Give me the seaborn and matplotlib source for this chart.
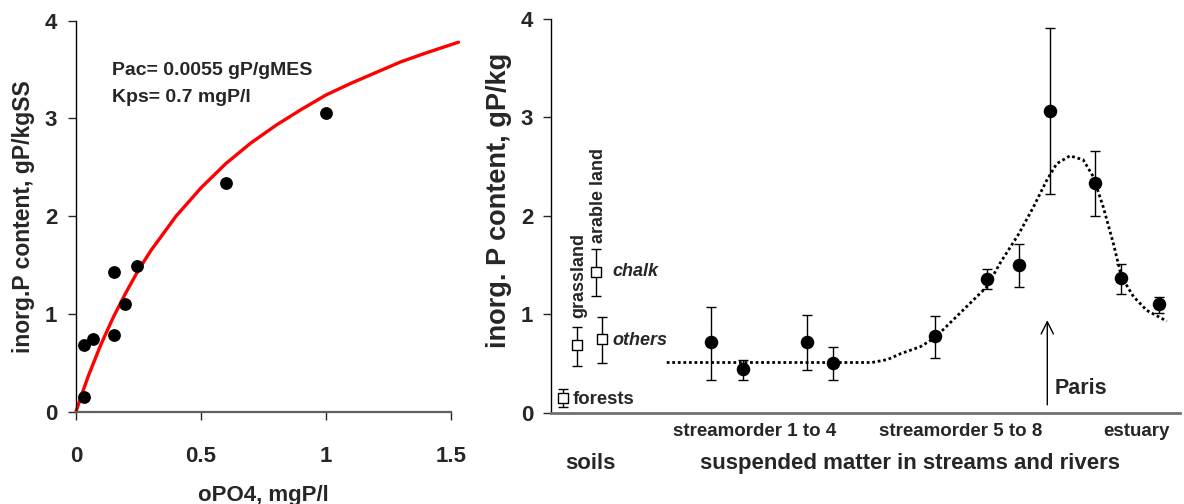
import matplotlib
matplotlib.use("Agg")
import matplotlib.pyplot as plt
import pandas as pd
import seaborn as sns

# ---------------- Left panel data ----------------
opo4 = [0.033, 0.033, 0.067, 0.15, 0.15, 0.195, 0.245, 0.60, 1.00]
p_content = [0.15, 0.68, 0.74, 0.78, 1.43, 1.10, 1.49, 2.34, 3.06]
fit_x = [0, 0.025, 0.05, 0.1, 0.15, 0.2, 0.25, 0.3, 0.4, 0.5, 0.6, 0.7,
         0.8, 0.9, 1.0, 1.1, 1.2, 1.3, 1.4, 1.53]
fit_y = [0, 0.19, 0.37, 0.69, 0.97, 1.22, 1.45, 1.65, 2.00, 2.29, 2.54, 2.75,
         2.93, 3.09, 3.24, 3.36, 3.47, 3.58, 3.67, 3.78]
left_xticks = [0, 0.5, 1, 1.5]
left_xticklabels = ["0", "0.5", "1", "1.5"]
yticks = [0, 1, 2, 3, 4]
pac_label = "Pac= 0.0055 gP/gMES"
kps_label = "Kps= 0.7 mgP/l"

# ---------------- Right panel data ----------------
soil_names = ["forests", "grassland", "arable chalk", "arable others"]
soil_pos = [1.9, 4.1, 7.1, 8.1]
soil_val = [0.146, 0.688, 1.433, 0.746]
soil_lo = [0.055, 0.478, 1.189, 0.502]
soil_hi = [0.238, 0.874, 1.664, 0.976]

river_pos = [25.4, 30.6, 40.7, 44.9, 61.0, 69.3, 74.4, 79.4, 86.5, 90.6, 96.7]
river_val = [0.715, 0.441, 0.715, 0.508, 0.78, 1.362, 1.50, 3.069, 2.337, 1.372, 1.10]
river_lo = [0.332, 0.332, 0.434, 0.332, 0.559, 1.254, 1.274, 2.222, 2.002, 1.206, 1.016]
river_hi = [1.071, 0.536, 0.993, 0.671, 0.983, 1.46, 1.711, 3.906, 2.663, 1.514, 1.173]

trend_pos = [18.4, 51.0, 53.5, 55.6, 58.7, 61.0, 65.0, 69.3, 71.4, 74.4, 76.7, 78.8,
             80.4, 82.5, 84.6, 86.2, 87.8, 89.4, 90.7, 92.6, 94.7, 97.9]
trend_val = [0.51, 0.51, 0.54, 0.60, 0.67, 0.76, 1.01, 1.28, 1.52, 1.82, 2.09, 2.36,
             2.53, 2.61, 2.57, 2.40, 2.09, 1.72, 1.38, 1.18, 1.04, 0.93]
paris_pos = 78.9

sns.set_style("ticks")
plt.rcParams["font.family"] = ["Liberation Sans", "DejaVu Sans"]
plt.rcParams["font.weight"] = "bold"
plt.rcParams["axes.labelweight"] = "bold"

fig = plt.figure(figsize=(11.84, 5.04), dpi=100)
W, H = 1184, 504

# ---------- left axes ----------
axL = fig.add_axes([76 / W, 1 - 411.7 / H, (451 - 76) / W, (411.7 - 20.7) / H])
df_fit = pd.DataFrame({"x": fit_x, "y": fit_y})
sns.lineplot(data=df_fit, x="x", y="y", ax=axL, color="#ff0000", lw=2.4)
for ln in axL.lines:
    ln.set_clip_on(False)
df_pts = pd.DataFrame({"x": opo4, "y": p_content})
sns.scatterplot(data=df_pts, x="x", y="y", ax=axL, color="black", s=85,
                edgecolor="black", linewidth=0, zorder=3)
axL.set_xlim(0, 1.5)
axL.set_ylim(0, 4)
axL.set_xticks(left_xticks)
axL.set_xticklabels(left_xticklabels)
axL.set_yticks(yticks)
axL.tick_params(axis="both", labelsize=16, length=5.5, width=1, direction="out")
axL.tick_params(axis="x", pad=19)
axL.tick_params(axis="y", pad=8)
for lab in axL.get_xticklabels() + axL.get_yticklabels():
    lab.set_fontweight("bold")
sns.despine(ax=axL)
axL.spines["left"].set_linewidth(1)
axL.spines["left"].set_color("black")
axL.spines["bottom"].set_linewidth(1.6)
axL.spines["bottom"].set_color("#606060")
axL.set_xlabel("oPO4, mgP/l", fontsize=16, fontweight="bold")
axL.set_ylabel("inorg.P content, gP/kgSS", fontsize=16.5, fontweight="bold")
axL.xaxis.set_label_coords(0.5, -0.187)
axL.yaxis.set_label_coords(-0.109, 0.50)
axL.text(0.143, 3.49, pac_label, fontsize=14, fontweight="bold", va="center", ha="left")
axL.text(0.143, 3.21, kps_label, fontsize=14, fontweight="bold", va="center", ha="left")

# ---------- right axes ----------
axR = fig.add_axes([551 / W, 1 - 412.7 / H, (1180 - 551) / W, (412.7 - 19) / H])
df_tr = pd.DataFrame({"x": trend_pos, "y": trend_val})
sns.lineplot(data=df_tr, x="x", y="y", ax=axR, color="black", lw=2.0,
             linestyle=(0, (1, 1)), zorder=2)
# error bars
axR.errorbar(river_pos, river_val,
             yerr=[[v - l for v, l in zip(river_val, river_lo)],
                   [h - v for v, h in zip(river_val, river_hi)]],
             fmt="none", ecolor="black", elinewidth=1, capsize=3.8, capthick=1, zorder=3)
axR.errorbar(soil_pos, soil_val,
             yerr=[[v - l for v, l in zip(soil_val, soil_lo)],
                   [h - v for v, h in zip(soil_val, soil_hi)]],
             fmt="none", ecolor="black", elinewidth=1, capsize=3.8, capthick=1, zorder=3)
df_riv = pd.DataFrame({"x": river_pos, "y": river_val})
sns.scatterplot(data=df_riv, x="x", y="y", ax=axR, color="black", s=95,
                linewidth=0, zorder=4)
df_soil = pd.DataFrame({"x": soil_pos, "y": soil_val})
sns.scatterplot(data=df_soil, x="x", y="y", ax=axR, marker="s", s=50,
                facecolor="white", edgecolor="black", linewidth=1, zorder=4)

axR.set_xlim(0, 100)
axR.set_ylim(0, 4)
axR.set_yticks(yticks)
axR.set_xticks([])
axR.set_xlabel("")
axR.tick_params(axis="y", labelsize=16, length=5.8, width=1, direction="out", pad=7)
for lab in axR.get_yticklabels():
    lab.set_fontweight("bold")
sns.despine(ax=axR)
axR.spines["left"].set_linewidth(1)
axR.spines["left"].set_color("black")
axR.spines["bottom"].set_linewidth(2)
axR.spines["bottom"].set_color("#707070")
axR.set_ylabel("inorg. P content, gP/kg", fontsize=19.5, fontweight="bold")
axR.yaxis.set_label_coords(-0.062, 0.540)

# soil labels
axR.text(soil_pos[0] + 1.6, soil_val[0] - 0.015, "forests", fontsize=13.3,
         fontweight="bold", va="center", ha="left")
axR.text(soil_pos[2] + 2.6, soil_val[2], "chalk", fontsize=13,
         fontweight="bold", style="italic", va="center", ha="left")
axR.text(soil_pos[3] + 1.6, soil_val[3] - 0.015, "others", fontsize=13,
         fontweight="bold", style="italic", va="center", ha="left")
axR.text(4.34, 0.96, "grassland", fontsize=13, fontweight="bold",
         rotation=90, va="bottom", ha="center")
axR.text(7.52, 1.72, "arable land", fontsize=13, fontweight="bold",
         rotation=90, va="bottom", ha="center")

# Paris arrow
axR.annotate("", xy=(paris_pos, 0.94), xytext=(paris_pos, 0.08),
             arrowprops=dict(arrowstyle="->", lw=1, color="black",
                             mutation_scale=22, shrinkA=0, shrinkB=0))
axR.text(paris_pos + 1.1, 0.25, "Paris", fontsize=15.5, fontweight="bold",
         va="center", ha="left")

# category labels below the axis
axR.text(0.323, -0.049, "streamorder 1 to 4", transform=axR.transAxes,
         fontsize=13.5, fontweight="bold", ha="center", va="center")
axR.text(0.652, -0.049, "streamorder 5 to 8", transform=axR.transAxes,
         fontsize=13.5, fontweight="bold", ha="center", va="center")
axR.text(0.931, -0.049, "estuary", transform=axR.transAxes,
         fontsize=13.5, fontweight="bold", ha="center", va="center")
axR.text(0.062, -0.128, "soils", transform=axR.transAxes,
         fontsize=16, fontweight="bold", ha="center", va="center")
axR.text(0.570, -0.128, "suspended matter in streams and rivers", transform=axR.transAxes,
         fontsize=16, fontweight="bold", ha="center", va="center")

fig.savefig("out.png", dpi=100)
